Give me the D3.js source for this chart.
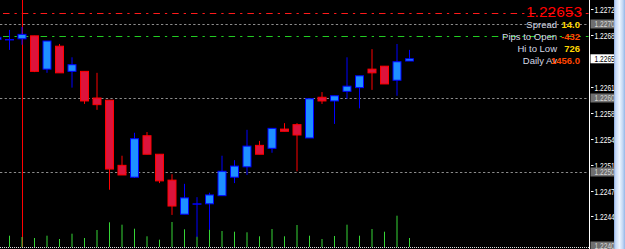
<!DOCTYPE html>
<meta charset="utf-8">
<title>EURUSD M1</title>
<style>
body { margin: 0; background: #000; }
svg { display: block; }
</style>

<svg width="625" height="249"></svg>
<script src="https://d3js.org/d3.v7.min.js"></script>
<script>

// bar index, -1 is the half hidden bar at the left edge
var bars = d3.range(-1, 33);

var opens  = [1.22679, 1.22679, 1.22680, 1.22684, 1.22639, 1.22670, 1.22636, 1.22636, 1.22600, 1.22597,
              1.22509, 1.22493, 1.22549, 1.22524, 1.22489, 1.22443, 1.22457, 1.22457, 1.22468, 1.22493,
              1.22507, 1.22536, 1.22532, 1.22558, 1.22564, 1.22546, 1.22601, 1.22596, 1.22609, 1.22614,
              1.22639, 1.22643, 1.22624, 1.22650];
var highs  = [1.22685, 1.22692, 1.22696, 1.22684, 1.22677, 1.22673, 1.22655, 1.22636, 1.22634, 1.22597,
              1.22522, 1.22553, 1.22554, 1.22524, 1.22497, 1.22484, 1.22466, 1.22472, 1.22522, 1.22516,
              1.22557, 1.22542, 1.22559, 1.22566, 1.22566, 1.22599, 1.22608, 1.22603, 1.22655, 1.22630,
              1.22666, 1.22643, 1.22673, 1.22665];
var lows   = [1.22677, 1.22665, 1.22672, 1.22635, 1.22634, 1.22634, 1.22614, 1.22592, 1.22584, 1.22476,
              1.22496, 1.22492, 1.22524, 1.22485, 1.22442, 1.22443, 1.22412, 1.22422, 1.22468, 1.22485,
              1.22496, 1.22524, 1.22526, 1.22555, 1.22501, 1.22546, 1.22592, 1.22565, 1.22599, 1.22586,
              1.22611, 1.22619, 1.22603, 1.22650];
var closes = [1.22682, 1.22679, 1.22686, 1.22636, 1.22677, 1.22634, 1.22645, 1.22596, 1.22591, 1.22504,
              1.22496, 1.22545, 1.22524, 1.22488, 1.22454, 1.22465, 1.22457, 1.22469, 1.22501, 1.22508,
              1.22535, 1.22524, 1.22559, 1.22555, 1.22550, 1.22599, 1.22596, 1.22603, 1.22616, 1.22630,
              1.22634, 1.22619, 1.22649, 1.22653];
var volumes = [110, 113, 100, 90, 113, 80, 133, 90, 170, 247,
               223, 183, 107, 73, 250, 177, 103, 177, 160, 153,
               147, 107, 180, 107, 220, 113, 80, 110, 223, 113,
               180, 153, 313, 90];

var tickPrices = [1.2244, 1.22475, 1.2251, 1.22545, 1.2258, 1.22615, 1.2265, 1.22685, 1.2272];
var tickLabels = ["1.2244", "1.2247", "1.2251", "1.2254", "1.2258", "1.2261", "1.2265", "1.2268", "1.2272"];
var roundLevels = [1.2270, 1.2260, 1.2250, 1.2240];
var roundLabels = ["1.2270", "1.2260", "1.2250", "1.2240"];

var bid = 1.22653, bidLabel = "1.2265";
var highLine = 1.22715, openLine = 1.22684;
var separatorBar = 1;

var infoLabels = ["Spread", "Pips to Open", "Hi to Low", "Daily Av"];
var infoValues = ["14.0", "-432", "726", "1456.0"];
var infoColors = ["#ffd700", "#ff4500", "#ffd700", "#ff4500"];

var svg = d3.select("svg"),
    width = +svg.attr("width"),
    height = +svg.attr("height"),
    axisX = 589.5,
    bottom = 247;

var candles = bars.map(function(b, i) {
  return {bar: b, o: opens[i], h: highs[i], l: lows[i], c: closes[i], v: volumes[i]};
});

var x = d3.scaleLinear().domain([0, 32]).range([9.5, 409.5]);
var y = d3.scaleLinear().domain([1.2240, 1.2270]).range([246, 24]);
var yv = d3.scaleLinear().domain([0, 1000]).range([bottom, bottom - 100]);

var crisp = function(v) { return Math.round(v) + 0.5; };

svg.append("rect").attr("width", width).attr("height", height).attr("fill", "#000");

// round price levels
svg.selectAll(".lvl")
  .data(roundLevels.slice(0, 3))
  .enter().append("line")
    .attr("x1", 0).attr("x2", axisX - 1)
    .attr("y1", function(d) { return crisp(y(d)); })
    .attr("y2", function(d) { return crisp(y(d)); })
    .attr("stroke", "#8c8c8c")
    .attr("stroke-dasharray", "2.3,2.3");

// day high and open lines
[[highLine, "#ff1a1a"], [openLine, "#22cc22"]].forEach(function(l) {
  svg.append("line")
    .attr("x1", 3).attr("x2", axisX - 1)
    .attr("y1", crisp(y(l[0]))).attr("y2", crisp(y(l[0])))
    .attr("stroke", l[1])
    .attr("stroke-dasharray", "6.5,5,2.3,5");
});

// bottom border
svg.append("line")
  .attr("x1", 0).attr("x2", axisX)
  .attr("y1", bottom + 0.5).attr("y2", bottom + 0.5)
  .attr("stroke", "#e0e0e0")
  .attr("stroke-dasharray", "1,1");

// separator
svg.append("line")
  .attr("x1", x(separatorBar) + 0.5).attr("x2", x(separatorBar) + 0.5)
  .attr("y1", 0).attr("y2", bottom)
  .attr("stroke", "#ff0000");

// volumes
svg.selectAll(".vol")
  .data(candles)
  .enter().append("line")
    .attr("x1", function(d) { return x(d.bar); })
    .attr("x2", function(d) { return x(d.bar); })
    .attr("y1", yv(0))
    .attr("y2", function(d) { return yv(d.v); })
    .attr("stroke", "#36d636");

// candles
var g = svg.selectAll(".candle")
  .data(candles)
  .enter().append("g");

g.append("line")
  .attr("x1", function(d) { return x(d.bar); })
  .attr("x2", function(d) { return x(d.bar); })
  .attr("y1", function(d) { return y(d.h); })
  .attr("y2", function(d) { return y(d.l); })
  .attr("stroke", function(d) { return d.c >= d.o ? "#0000ff" : "#ff0000"; });

g.append("rect")
  .attr("x", function(d) { return x(d.bar) - 4; })
  .attr("width", 8)
  .attr("y", function(d) { return y(Math.max(d.o, d.c)); })
  .attr("height", function(d) { return Math.max(0.4, Math.abs(y(d.o) - y(d.c))); })
  .attr("fill", function(d) { return d.c > d.o ? "#1e90ff" : d.c < d.o ? "#dc143c" : "#0000ff"; })
  .attr("stroke", function(d) { return d.c >= d.o ? "#0000ff" : "#ff0000"; });

// info block
svg.append("text")
  .attr("x", 582).attr("y", 17)
  .attr("text-anchor", "end")
  .attr("font-family", "Liberation Sans, Arial, sans-serif")
  .attr("font-size", 15.5)
  .attr("fill", "#ff0000")
  .text(bid.toFixed(5));

var info = svg.selectAll(".info")
  .data(infoLabels)
  .enter().append("g")
    .attr("transform", function(d, i) { return "translate(0," + (27.5 + i * 12) + ")"; })
    .attr("font-family", "Liberation Sans, Arial, sans-serif");

info.append("text")
  .attr("x", 557)
  .attr("text-anchor", "end")
  .attr("font-size", 9.5)
  .attr("fill", "#d4d8e4")
  .text(function(d) { return d; });

info.append("text")
  .attr("x", 580)
  .attr("text-anchor", "end")
  .attr("font-size", 9.5)
  .attr("font-weight", "bold")
  .attr("fill", function(d, i) { return infoColors[i]; })
  .text(function(d, i) { return infoValues[i]; });

// price axis
svg.append("line")
  .attr("x1", axisX).attr("x2", axisX)
  .attr("y1", 0).attr("y2", height)
  .attr("stroke", "#fff");

var axis = svg.append("g").attr("font-family", "Liberation Sans, Arial, sans-serif").attr("font-size", 8.5);

// narrow axis font, squeezed like the terminal's
function axisLabel(ty, txt, color) {
  axis.append("text")
    .attr("transform", "translate(594.5," + (ty + 3) + ") scale(0.78,1)")
    .attr("fill", color)
    .text(txt);
}

tickPrices.forEach(function(p, i) {
  var ty = crisp(y(p));
  axis.append("line")
    .attr("x1", axisX + 1.5).attr("x2", axisX + 4)
    .attr("y1", ty).attr("y2", ty)
    .attr("stroke", "#fff");
  // the bid box covers the tick label at the same price
  if (Math.abs(y(p) - y(bid)) < 5) return;
  axisLabel(ty, tickLabels[i], "#fff");
});

roundLevels.forEach(function(p, i) {
  var ty = y(p);
  axis.append("rect")
    .attr("x", axisX + 1).attr("y", ty - 4.5)
    .attr("width", 24).attr("height", 9)
    .attr("fill", "#6f6f6f");
  axisLabel(ty, roundLabels[i], "#d6d6d6");
});

axis.append("rect")
  .attr("x", axisX + 1).attr("y", y(bid) - 4.5)
  .attr("width", 24).attr("height", 9)
  .attr("fill", "#fff");
axisLabel(y(bid), bidLabel, "#000");

// scrollbar
var grad = svg.append("defs").append("linearGradient").attr("id", "sb");
[[0, "#88a9dc"], [0.15, "#c4d8f6"], [0.5, "#eef5fe"], [0.8, "#c2d7f5"], [1, "#95b6e6"]].forEach(function(s) {
  grad.append("stop").attr("offset", s[0]).attr("stop-color", s[1]);
});
svg.append("rect")
  .attr("x", 614).attr("y", 0)
  .attr("width", 11).attr("height", height)
  .attr("fill", "url(#sb)");

</script>
